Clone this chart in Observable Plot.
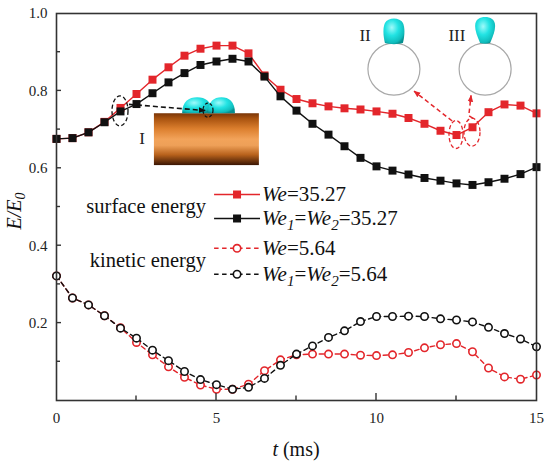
<!DOCTYPE html>
<html><head><meta charset="utf-8">
<script src="https://cdn.jsdelivr.net/npm/d3@7"></script>
<script src="https://cdn.jsdelivr.net/npm/@observablehq/plot@0.6"></script>
<style>
html,body{margin:0;padding:0;background:#fff;}
#chart svg{display:block;}
#chart svg text, #chart svg tspan{font-family:'Liberation Serif','Times New Roman',serif;}
</style>
</head><body><div id="chart"></div>
<script>
// ---- data ----
const time = [0,0.5,1,1.5,2,2.5,3,3.5,4,4.5,5,5.5,6,6.5,7,7.5,8,8.5,9,9.5,10,10.5,11,11.5,12,12.5,13,13.5,14,14.5,15];
const surfaceSingle = [0.676,0.678,0.693,0.720,0.756,0.792,0.829,0.861,0.891,0.909,0.917,0.917,0.897,0.840,0.803,0.779,0.768,0.760,0.755,0.752,0.747,0.741,0.730,0.715,0.697,0.686,0.706,0.745,0.765,0.762,0.742];
const surfaceDouble = [0.676,0.678,0.693,0.719,0.747,0.766,0.794,0.822,0.846,0.867,0.876,0.883,0.876,0.837,0.786,0.749,0.715,0.687,0.657,0.627,0.605,0.594,0.584,0.575,0.568,0.561,0.557,0.564,0.573,0.585,0.603];
const kineticSingle = [0.322,0.265,0.247,0.219,0.188,0.150,0.118,0.087,0.060,0.040,0.029,0.029,0.042,0.077,0.105,0.118,0.120,0.120,0.120,0.117,0.116,0.118,0.124,0.136,0.144,0.147,0.126,0.084,0.061,0.055,0.066];
const kineticDouble = [0.322,0.265,0.247,0.219,0.187,0.161,0.130,0.103,0.075,0.054,0.041,0.029,0.034,0.057,0.091,0.120,0.141,0.163,0.180,0.204,0.217,0.217,0.218,0.217,0.211,0.208,0.203,0.189,0.173,0.159,0.139];

const xTickLabels = [0,5,10,15];
const yTickLabels = [0.2,0.4,0.6,0.8,1.0];
const xMajorTicks = [5,10];
const xMinorTicks = [2.5,7.5,12.5];
const yMajorTicks = [0.2,0.4,0.6,0.8];
const yMinorTicks = [0.1,0.3,0.5,0.7,0.9];

const RED = "#e3262b", BLACK = "#111111";
const series = [
  {key:"kineticSingle", values:kineticSingle, color:RED,   dashed:true,  symbol:"circle"},
  {key:"kineticDouble", values:kineticDouble, color:BLACK, dashed:true,  symbol:"circle"},
  {key:"surfaceSingle", values:surfaceSingle, color:RED,   dashed:false, symbol:"square"},
  {key:"surfaceDouble", values:surfaceDouble, color:BLACK, dashed:false, symbol:"square"}
];
const rows = series.map(s => time.map((t,i) => ({t, v:s.values[i], key:s.key})));

const marks = [];
series.forEach((s, k) => {
  const data = rows[k];
  marks.push(Plot.line(data, {x:"t", y:"v", stroke:s.color, strokeWidth:1.4, strokeDasharray: s.dashed ? "4.5,3.5" : null}));
  if (s.symbol === "square") {
    marks.push(Plot.dot(data, {x:"t", y:"v", symbol:"square", r:4.5, fill:s.color, stroke:"none"}));
  } else {
    marks.push(Plot.dot(data, {x:"t", y:"v", symbol:"circle", r:3.7, fill:"white", stroke:s.color, strokeWidth:1.6}));
  }
});

const FONT = "'Liberation Serif','Times New Roman',serif";
const plot = Plot.plot({
  width:550, height:463,
  marginLeft:56, marginRight:14, marginTop:13, marginBottom:63,
  style:{fontFamily:FONT, fontSize:"15px", color:"#222", background:"#fff", overflow:"visible"},
  x:{domain:[0,15]},
  y:{domain:[0,1]},
  marks:[
    ...marks,
    Plot.frame({stroke:"#333", strokeWidth:1.6}),
    Plot.axisY(yTickLabels, {tickSize:0, tickPadding:9, tickFormat:d3.format(".1f"), label:null, fontSize:15}),
    Plot.axisX(xTickLabels, {tickSize:0, tickPadding:12, tickFormat:d3.format("d"), label:null, fontSize:15})
  ]
});
document.getElementById("chart").appendChild(plot);

// ---- decorations drawn with the plot's own scales ----
const svg = d3.select(plot);
const X = v => plot.scale("x").apply(v);
const Y = v => plot.scale("y").apply(v);
const y0 = Y(0), x0 = X(0);

// inward ticks
const tk = svg.append("g").attr("stroke","#333").attr("stroke-width",1.4);
xMajorTicks.forEach(v => tk.append("line").attr("x1",X(v)).attr("x2",X(v)).attr("y1",y0).attr("y2",y0-7));
xMinorTicks.forEach(v => tk.append("line").attr("x1",X(v)).attr("x2",X(v)).attr("y1",y0).attr("y2",y0-4.5));
yMajorTicks.forEach(v => tk.append("line").attr("x1",x0).attr("x2",x0+5).attr("y1",Y(v)).attr("y2",Y(v)));
yMinorTicks.forEach(v => tk.append("line").attr("x1",x0).attr("x2",x0+4).attr("y1",Y(v)).attr("y2",Y(v)));

// axis titles
const xt = svg.append("text").attr("x",(X(0)+X(15))/2).attr("y",456).attr("text-anchor","middle")
  .attr("font-size",20).attr("fill","#111");
xt.append("tspan").attr("font-style","italic").text("t");
xt.append("tspan").text(" (ms)");
const yt = svg.append("text").attr("transform",`translate(21,211) rotate(-90)`).attr("text-anchor","middle")
  .attr("font-size",20).attr("fill","#111");
yt.append("tspan").attr("font-style","italic").text("E/E");
yt.append("tspan").attr("font-style","italic").attr("font-size",14).attr("dy",4).text("0");

// defs
const defs = svg.append("defs");
const brown = defs.append("linearGradient").attr("id","brown").attr("x1",0).attr("y1",0).attr("x2",0).attr("y2",1);
[[0,"#7a3608"],[0.1,"#a8520f"],[0.3,"#dc7f2e"],[0.5,"#f2a35a"],[0.62,"#eea058"],[0.8,"#b8621c"],[1,"#3a1503"]]
  .forEach(([o,c]) => brown.append("stop").attr("offset",o).attr("stop-color",c));
const cyan = defs.append("radialGradient").attr("id","cyan").attr("cx","40%").attr("cy","35%").attr("r","70%");
[[0,"#9ffafa"],[0.45,"#22e3e3"],[0.85,"#10bcbc"],[1,"#078f8f"]]
  .forEach(([o,c]) => cyan.append("stop").attr("offset",o).attr("stop-color",c));
function arrowMarker(id, color){
  defs.append("marker").attr("id",id).attr("viewBox","0 0 10 10").attr("refX",9).attr("refY",5)
    .attr("markerWidth",7).attr("markerHeight",7).attr("orient","auto-start-reverse")
    .attr("markerUnits","userSpaceOnUse")
    .append("path").attr("d","M0,1 L10,5 L0,9 Z").attr("fill",color);
}
arrowMarker("arrBlack", BLACK);
arrowMarker("arrRed", RED);

const ann = svg.append("g");
// Inset I : cylinder surface with two droplets (data coordinates)
const insetI = {t0:3.06, t1:6.34, e0:0.607, e1:0.741};
ann.append("rect").attr("x",X(insetI.t0)).attr("y",Y(insetI.e1))
  .attr("width",X(insetI.t1)-X(insetI.t0)).attr("height",Y(insetI.e0)-Y(insetI.e1)).attr("fill","url(#brown)");
const caps = [{t:4.41, rx:15, ry:16},{t:5.17, rx:13.5, ry:16}];
caps.forEach(c => {
  const cx = X(c.t), by = Y(insetI.e1);
  ann.append("path").attr("d",`M${cx-c.rx},${by} C${cx-c.rx},${by-c.ry*0.75} ${cx-c.rx*0.55},${by-c.ry} ${cx},${by-c.ry} C${cx+c.rx*0.55},${by-c.ry} ${cx+c.rx},${by-c.ry*0.75} ${cx+c.rx},${by} Z`)
    .attr("fill","url(#cyan)");
});
// dashed ellipse around point I and arrow to the contact point
ann.append("ellipse").attr("cx",X(2)).attr("cy",Y(0.747)).attr("rx",8).attr("ry",15)
  .attr("fill","none").attr("stroke",BLACK).attr("stroke-width",1.3).attr("stroke-dasharray","4,2.5");
ann.append("line").attr("x1",X(2.28)).attr("y1",Y(0.764)).attr("x2",X(4.66)).attr("y2",Y(0.748))
  .attr("stroke",BLACK).attr("stroke-width",1.6).attr("stroke-dasharray","5,3").attr("marker-end","url(#arrBlack)");
ann.append("ellipse").attr("cx",X(4.75)).attr("cy",Y(0.749)).attr("rx",5).attr("ry",7)
  .attr("fill","none").attr("stroke",BLACK).attr("stroke-width",1.2).attr("stroke-dasharray","3,2");
ann.append("text").attr("x",X(2.69)).attr("y",Y(0.677)).attr("dy","0.35em").attr("text-anchor","middle")
  .attr("font-size",17).attr("fill","#222").text("I");

// Insets II and III : sphere with droplet
const spheres = [{t:10.56, e:0.855, label:"II", lt:9.66, shape:"capsule"},{t:13.41, e:0.855, label:"III", lt:12.53, shape:"tear"}];
spheres.forEach(s => {
  const cx = X(s.t), cy = Y(s.e), r = 26;
  ann.append("circle").attr("cx",cx).attr("cy",cy).attr("r",r).attr("fill","#fff").attr("stroke","#a8a8a8").attr("stroke-width",1.2);
  const top = cy - r;
  let d;
  if (s.shape === "capsule") {
    d = `M${cx-9},${top} C${cx-11},${top-8} ${cx-11},${top-16} ${cx-9},${top-20} C${cx-6},${top-26} ${cx+6},${top-26} ${cx+9},${top-20} C${cx+11},${top-16} ${cx+11},${top-8} ${cx+9},${top} C${cx+4},${top+1.5} ${cx-4},${top+1.5} ${cx-9},${top} Z`;
  } else {
    d = `M${cx-5},${top} C${cx-8},${top-7} ${cx-10},${top-12} ${cx-10},${top-17} C${cx-10},${top-24} ${cx-5},${top-26} ${cx},${top-26} C${cx+5},${top-26} ${cx+10},${top-24} ${cx+10},${top-17} C${cx+10},${top-12} ${cx+8},${top-7} ${cx+5},${top} C${cx+2},${top+1} ${cx-2},${top+1} ${cx-5},${top} Z`;
  }
  ann.append("path").attr("d",d).attr("fill","url(#cyan)");
  ann.append("text").attr("x",X(s.lt)).attr("y",Y(0.943)).attr("dy","0.35em").attr("text-anchor","middle")
    .attr("font-size",17).attr("fill","#222").text(s.label);
});
// red dashed ellipses and arrows
[{t:12.5, e:0.686, rx:7, ry:14},{t:13.0, e:0.692, rx:8, ry:14}].forEach(o => {
  ann.append("ellipse").attr("cx",X(o.t)).attr("cy",Y(o.e)).attr("rx",o.rx).attr("ry",o.ry)
    .attr("fill","none").attr("stroke",RED).attr("stroke-width",1.3).attr("stroke-dasharray","4,2.5");
});
ann.append("line").attr("x1",X(12.38)).attr("y1",Y(0.721)).attr("x2",X(11.19)).attr("y2",Y(0.798))
  .attr("stroke",RED).attr("stroke-width",1.5).attr("stroke-dasharray","4.5,3").attr("marker-end","url(#arrRed)");
const pts2 = [[13.03,0.728],[12.9,0.735],[12.97,0.787]];
ann.append("path").attr("d", d3.line()(pts2.map(p => [X(p[0]), Y(p[1])])))
  .attr("fill","none").attr("stroke",RED).attr("stroke-width",1.5).attr("stroke-dasharray","4.5,3").attr("marker-end","url(#arrRed)");

// ---- legend ----
const legendItems = [
  {key:"surfaceSingle", e:0.531, parts:[["We","i"],["=35.27",""]]},
  {key:"surfaceDouble", e:0.469, parts:[["We","i"],["1","sub"],["=",""],["We","i"],["2","sub"],["=35.27",""]]},
  {key:"kineticSingle", e:0.392, parts:[["We","i"],["=5.64",""]]},
  {key:"kineticDouble", e:0.325, parts:[["We","i"],["1","sub"],["=",""],["We","i"],["2","sub"],["=5.64",""]]}
];
const legendGroups = [{label:"surface energy", e:0.50},{label:"kinetic energy", e:0.361}];
const lg = svg.append("g");
const lx0 = X(4.94), lx1 = X(6.375), lxm = (lx0+lx1)/2;
legendItems.forEach(it => {
  const s = series.find(d => d.key === it.key);
  const yy = Y(it.e);
  lg.append("line").attr("x1",lx0).attr("x2",lx1).attr("y1",yy).attr("y2",yy)
    .attr("stroke",s.color).attr("stroke-width",1.4).attr("stroke-dasharray", s.dashed ? "4.5,3.5" : null);
  if (s.symbol === "square") {
    lg.append("rect").attr("x",lxm-4).attr("y",yy-4).attr("width",8).attr("height",8).attr("fill",s.color);
  } else {
    lg.append("circle").attr("cx",lxm).attr("cy",yy).attr("r",3.7).attr("fill","#fff").attr("stroke",s.color).attr("stroke-width",1.6);
  }
  const tx = lg.append("text").attr("x",lx1+2).attr("y",yy+6.5).attr("text-anchor","start")
    .attr("font-size",21).attr("fill","#111");
  let shift = 0;
  it.parts.forEach(([str, st]) => {
    const sp = tx.append("tspan").text(str);
    if (st === "i") sp.attr("font-style","italic");
    if (st === "sub") { sp.attr("font-style","italic").attr("font-size",15).attr("dy",5 - shift); shift = 5; }
    else if (shift) { sp.attr("dy",-shift); shift = 0; }
  });
});
legendGroups.forEach(g => {
  lg.append("text").attr("x",X(4.69)).attr("y",Y(g.e)).attr("dy","0.32em").attr("text-anchor","end")
    .attr("font-size",20.5).attr("fill","#111").text(g.label);
});
</script>
</body></html>
